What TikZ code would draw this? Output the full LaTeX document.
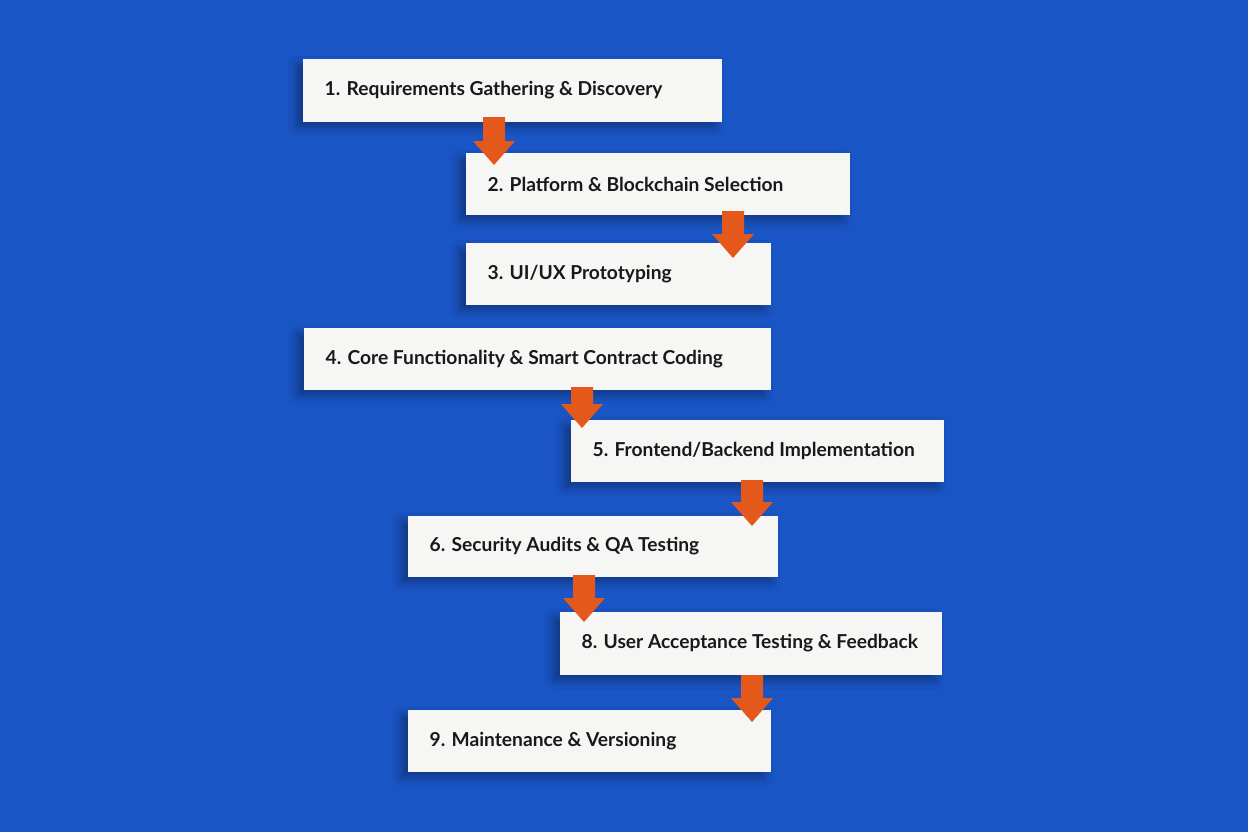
\documentclass[tikz,border=0pt]{standalone}
\usepackage{fontspec}
\setmainfont{Lato}
\usetikzlibrary{shadows.blur}
\definecolor{bg}{HTML}{1A55C6}
\definecolor{arr}{HTML}{E5581C}
\definecolor{card}{HTML}{F6F6F4}
\tikzset{
  card/.style={fill=card,draw=none,blur shadow={shadow xshift=-5pt,shadow yshift=-4pt,shadow blur radius=6pt,shadow blur steps=10,shadow opacity=35}},
  lbl/.style={anchor=west,font=\fontsize{14.4}{16}\selectfont\bfseries,text=black!90},
}
\newcommand{\barrow}[3]{% x, ytop, ybottom
  \fill[arr] (#1-11,#2) -- (#1+11,#2) -- (#1+11,#3-24) -- (#1+21,#3-24) -- (#1,#3) -- (#1-21,#3-24) -- (#1-11,#3-24) -- cycle;}
\newcommand{\card}[6]{% name, l, t, r, b, text
  \path[card] (#2,#3) rectangle (#4,#5);
  \node[lbl] (#1) at (#2+17,{(#3+#5)/2}) {#6};}
\begin{document}
\begin{tikzpicture}[x=0.75pt,y=-0.75pt]
\fill[bg] (0,0) rectangle (1248,832);
\useasboundingbox (0,0) rectangle (1248,832);
\card{n1}{303}{59}{722}{122}{1. Requirements Gathering \& Discovery}
\card{n2}{466}{153}{850}{215}{2. Platform \& Blockchain Selection}
\card{n3}{466}{243}{771}{305}{3. UI/UX Prototyping}
\card{n4}{304}{328}{771}{390}{4. Core Functionality \& Smart Contract Coding}
\card{n5}{571}{420}{944}{482}{5. Frontend/Backend Implementation}
\card{n6}{408}{516}{778}{577}{6. Security Audits \& QA Testing}
\card{n8}{560}{612}{942}{675}{8. User Acceptance Testing \& Feedback}
\card{n9}{408}{710}{771}{772}{9. Maintenance \& Versioning}
\barrow{494}{117}{165}
\barrow{733}{211}{258}
\barrow{582}{387}{428}
\barrow{752}{480}{526}
\barrow{584}{575}{622}
\barrow{752}{675}{722}
\end{tikzpicture}
\end{document}
